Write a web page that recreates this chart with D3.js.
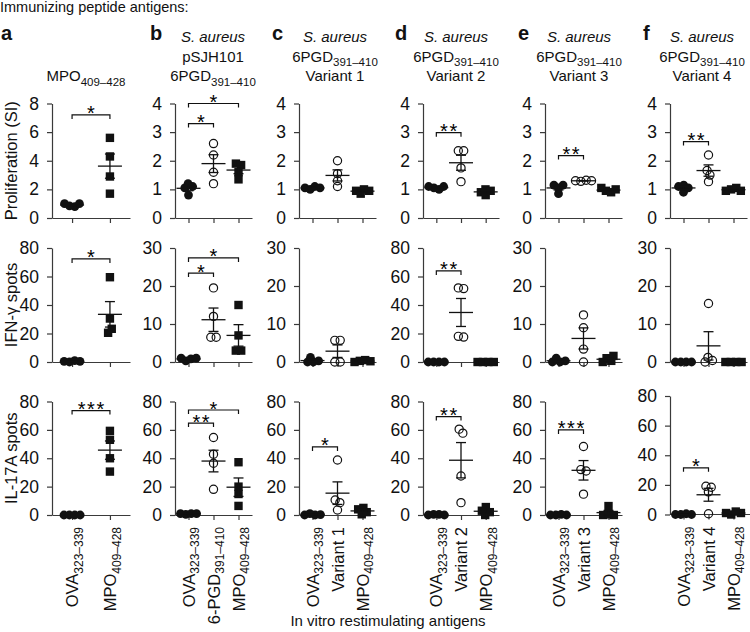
<!DOCTYPE html>
<html><head><meta charset="utf-8">
<script src="https://cdn.jsdelivr.net/npm/d3@7"></script>
<style>
body{margin:0;background:#fff}
svg{display:block}
text{font-family:"Liberation Sans",Arial,Helvetica,sans-serif;fill:#111}
</style>
</head><body>
<svg id="chart" width="750" height="632"></svg>
<script>
// ---------------- DATA ----------------
const panelLetters = ["a","b","c","d","e","f"];
const rowLabels = ["Proliferation (SI)", "IFN-\u03b3 spots", "IL-17A spots"];
const figureTitle = "Immunizing peptide antigens:";
const xAxisTitle = "In vitro restimulating antigens";

// panel titles: lines; "|" separates a subscript; "_i" prefix marks italic
const titleA = ["MPO|409\u2013428"];
const titleB = ["_iS. aureus", "pSJH101", "6PGD|391\u2013410"];
const titleC = ["_iS. aureus", "6PGD|391\u2013410", "Variant 1"];
const titleD = ["_iS. aureus", "6PGD|391\u2013410", "Variant 2"];
const titleE = ["_iS. aureus", "6PGD|391\u2013410", "Variant 3"];
const titleF = ["_iS. aureus", "6PGD|391\u2013410", "Variant 4"];

// categories (x tick labels)
const catsA = ["OVA|323\u2013339", "MPO|409\u2013428"];
const catsB = ["OVA|323\u2013339", "6-PGD|391\u2013410", "MPO|409\u2013428"];
const catsC = ["OVA|323\u2013339", "Variant 1", "MPO|409\u2013428"];
const catsD = ["OVA|323\u2013339", "Variant 2", "MPO|409\u2013428"];
const catsE = ["OVA|323\u2013339", "Variant 3", "MPO|409\u2013428"];
const catsF = ["OVA|323\u2013339", "Variant 4", "MPO|409\u2013428"];

// y-axis maxima and tick steps per row per panel
const yMaxSI   = [8, 4, 4, 4, 4, 4];
const yMaxIFN  = [80, 30, 30, 80, 30, 30];
const yMaxIL17 = [80, 80, 80, 80, 80, 80];
const tickStep = {8:2, 4:1, 30:10, 80:20};

// Proliferation (SI) values, one array per group
const siA = [[1.0, 0.8, 0.85, 1.0], [5.6, 4.3, 2.9, 1.7]];
const siB = [[1.2, 1.1, 1.05, 0.8], [2.6, 2.2, 1.6, 1.2], [1.9, 1.85, 1.6, 1.35]];
const siC = [[1.1, 1.05, 1.05, 1.0], [2.0, 1.55, 1.3, 1.1], [1.0, 0.95, 0.85, 0.95]];
const siD = [[1.1, 1.05, 1.1, 1.0], [2.35, 2.35, 1.75, 1.27], [1.0, 0.9, 0.8, 0.95]];
const siE = [[1.15, 1.15, 0.85, 1.05], [1.32, 1.3, 1.3, 1.28], [0.95, 1.05, 0.9, 1.0]];
const siF = [[1.1, 1.15, 0.9, 1.05], [2.2, 1.66, 1.5, 1.27], [1.0, 0.95, 1.05, 0.95]];

// IFN-gamma spots
const ifnA = [[0.5, 0, 0.5, 1.0], [59.5, 30.5, 20.5, 23.3]];
const ifnB = [[1.0, 0.3, 0.8, 1.0], [19.5, 12, 6.5, 6.5], [15, 7, 3, 3]];
const ifnC = [[0, 0, 0.3, 1.2], [5.7, 5.7, 0, 0], [0.3, 0, 0.5, 0.2]];
const ifnD = [[0, 0, 0, 0], [52, 51.5, 18, 17.5], [0, 0, 0, 0]];
const ifnE = [[0, 0, 0.3, 1.0], [12.4, 9, 3.4, 0], [1.0, 0, 0.3, 1.6]];
const ifnF = [[0, 0, 0, 0], [15.4, 1.2, 0.4, 0], [0, 0, 0, 0]];

// IL-17A spots
const il17A = [[0, 0, 0, 0], [59.3, 53, 40, 30.6]];
const il17B = [[1.0, 0.5, 1.0, 1.0], [54.6, 42.9, 36.5, 18.1], [37.2, 20, 14.8, 6.4]];
const il17C = [[0, 0, 0.3, 1.0], [38.8, 10.6, 8.7, 3.5], [4, 0.5, 2, 5]];
const il17D = [[0, 0, 0.5, 0.5], [60.5, 57.7, 27.5, 8.7], [3, 0, 2, 5.6]];
const il17E = [[0, 0, 0, 0.5], [48.3, 32, 31, 14.7], [0, 0, 0.5, 6.3]];
const il17F = [[0, 0, 0, 0.5], [19.1, 18.4, 15.3, 0.5], [1, 0, 1, 2]];

// significance brackets: [fromGroup, toGroup, yValue, label]
const sigSI   = [[[0,1,7.2,"*"]], [[0,2,4.0,"*"],[0,1,3.3,"*"]], [], [[0,1,2.98,"**"]], [[0,1,2.18,"**"]], [[0,1,2.67,"**"]]];
const sigIFN  = [[[0,1,72.3,"*"]], [[0,2,27.4,"*"],[0,1,23.4,"*"]], [], [[0,1,63.9,"**"]], [], []];
const sigIL17 = [[[0,1,73.6,"***"]], [[0,2,74,"*"],[0,1,64.8,"**"]], [[0,1,48,"*"]], [[0,1,69.4,"**"]], [[0,1,60,"***"]], [[0,1,31.5,"*"]]];

// ---------------- LAYOUT ----------------
const W = 750, H = 632;
const axisX   = [52, 175, 299, 423, 545, 670];
const axisLen = [78, 77, 77, 76, 77, 77];
const titleX  = [86, 213, 335, 456, 579, 702];
const letterX = [1, 150, 272, 395, 518, 643];
const rowBottom = [218, 362, 515];
const rowTop    = [103.5, 248, 401.5];
const fBottomTop = 396, fBottomBase = 514.5;

const FS_TICK = 17.5, FS_LAB = 16.5, FS_XLAB = 16.5, FS_TITLE = 15, FS_SUB = 11.5;
const axisColor = "#3a3a3a";

const svg = d3.select("#chart");

const panels = [
  {cats: catsA, title: titleA, rows: [siA, ifnA, il17A]},
  {cats: catsB, title: titleB, rows: [siB, ifnB, il17B]},
  {cats: catsC, title: titleC, rows: [siC, ifnC, il17C]},
  {cats: catsD, title: titleD, rows: [siD, ifnD, il17D]},
  {cats: catsE, title: titleE, rows: [siE, ifnE, il17E]},
  {cats: catsF, title: titleF, rows: [siF, ifnF, il17F]}
];
const yMaxRows = [yMaxSI, yMaxIFN, yMaxIL17];
const sigRows = [sigSI, sigIFN, sigIL17];

// rich text helper: "main|sub"
function rich(textSel, str, fs, subFs) {
  let italic = false;
  if (str.startsWith("_i")) { italic = true; str = str.slice(2); }
  const parts = str.split("|");
  textSel.append("tspan").text(parts[0]);
  if (italic) textSel.style("font-style", "italic");
  if (parts.length > 1) {
    textSel.append("tspan").attr("dy", fs * 0.3).attr("font-size", subFs).text(parts[1]);
  }
}

// figure title
svg.append("text").attr("x", 0).attr("y", 12).attr("font-size", 14.5).text(figureTitle);

// x axis title
svg.append("text").attr("x", 388).attr("y", 626).attr("text-anchor", "middle")
  .attr("font-size", 15).text(xAxisTitle);

// row labels
rowLabels.forEach((lab, r) => {
  const cy = (rowBottom[r] + rowTop[r]) / 2;
  svg.append("text").attr("transform", `translate(17,${cy}) rotate(-90)`)
    .attr("text-anchor", "middle").attr("font-size", FS_LAB).text(lab);
});

panels.forEach((p, k) => {
  const g = svg.append("g");
  // panel letter
  g.append("text").attr("x", letterX[k]).attr("y", 40).attr("font-size", 20)
    .attr("font-weight", "bold").text(panelLetters[k]);
  // title lines (bottom-aligned at baseline 81)
  const n = p.title.length;
  p.title.forEach((line, i) => {
    const t = g.append("text").attr("x", titleX[k]).attr("y", 81 - (n - 1 - i) * 19.5)
      .attr("text-anchor", "middle").attr("font-size", FS_TITLE);
    rich(t, line, FS_TITLE, FS_SUB);
  });

  const x0 = axisX[k], x1 = axisX[k] + axisLen[k];
  const xS = d3.scalePoint().domain(d3.range(p.cats.length)).range([x0, x1])
    .padding(p.cats.length === 2 ? 0.53 : 0.54);

  p.rows.forEach((groups, r) => {
    let yb = rowBottom[r], yt = rowTop[r];
    if (k === 5 && r === 2) { yb = fBottomBase; yt = fBottomTop; }
    const ymax = yMaxRows[r][k];
    const yS = d3.scaleLinear().domain([0, ymax]).range([yb, yt]);
    const ticks = d3.range(0, ymax + 0.001, tickStep[ymax]);

    // y axis
    const ya = g.append("g").attr("transform", `translate(${x0},0)`)
      .call(d3.axisLeft(yS).tickValues(ticks).tickSize(5).tickSizeOuter(0).tickPadding(8).tickFormat(d3.format("d")));
    ya.selectAll("text").attr("font-size", FS_TICK).attr("font-family", null).style("fill", "#111");
    ya.selectAll("line,path").attr("stroke", axisColor).attr("stroke-width", 1.2);

    // x axis
    const xa = g.append("g").attr("transform", `translate(0,${yb})`)
      .call(d3.axisBottom(xS).tickSize(5).tickSizeOuter(0).tickFormat(""));
    xa.selectAll("line,path").attr("stroke", axisColor).attr("stroke-width", 1.2);
    if (k === 5 && r === 2) xa.select("path").attr("d", `M${x0},0H${W}`);

    // points (beeswarm via d3-force, y fixed)
    groups.forEach((vals, gi) => {
      const cx = xS(gi);
      const nodes = vals.map(v => ({x: cx, y: yS(v), fy: yS(v), v}));
      const sim = d3.forceSimulation(nodes)
        .force("x", d3.forceX(cx).strength(0.08))
        .force("c", d3.forceCollide(2.7))
        .stop();
      for (let i = 0; i < 300; i++) sim.tick();
      const last = gi === groups.length - 1 && groups.length > 1;
      const kind = gi === 0 ? "filled" : (last ? "square" : "open");
      nodes.forEach(nd => {
        if (kind === "filled") {
          g.append("circle").attr("cx", nd.x).attr("cy", nd.fy).attr("r", 4.4).attr("fill", "#111");
        } else if (kind === "open") {
          g.append("circle").attr("cx", nd.x).attr("cy", nd.fy).attr("r", 4.1).attr("fill", "none")
            .attr("stroke", "#111").attr("stroke-width", 1.2);
        } else {
          g.append("rect").attr("x", nd.x - 4.2).attr("y", nd.fy - 4.2).attr("width", 8.4).attr("height", 8.4).attr("fill", "#111");
        }
      });
      // mean +/- SEM
      const m = d3.mean(vals);
      const sem = d3.deviation(vals) / Math.sqrt(vals.length) || 0;
      const ln = (xa1, ya1, xa2, ya2) => g.append("line").attr("x1", xa1).attr("y1", ya1).attr("x2", xa2).attr("y2", ya2)
        .attr("stroke", "#111").attr("stroke-width", 1.3);
      ln(cx - 12, yS(m), cx + 12, yS(m));
      if (sem > 0) {
        ln(cx, yS(m - sem), cx, yS(m + sem));
        ln(cx - 5, yS(m + sem), cx + 5, yS(m + sem));
        ln(cx - 5, yS(m - sem), cx + 5, yS(m - sem));
      }
    });

    // significance brackets
    sigRows[r][k].forEach(([a, b, yv, lab]) => {
      const yy = yS(yv);
      g.append("path").attr("d", `M${xS(a)},${yy + 4}V${yy}H${xS(b)}V${yy + 4}`)
        .attr("fill", "none").attr("stroke", "#111").attr("stroke-width", 1.2);
      g.append("text").attr("x", (xS(a) + xS(b)) / 2).attr("y", yy + 5.5).attr("text-anchor", "middle")
        .attr("font-size", 20).style("fill", "#000").text(lab.split("").join("\u200a"));
    });

    // x tick labels on bottom row
    if (r === 2) {
      p.cats.forEach((c, ci) => {
        const t = g.append("text")
          .attr("transform", `translate(${xS(ci) + 6},${yb + 12}) rotate(-90)`)
          .attr("text-anchor", "end").attr("font-size", FS_XLAB);
        rich(t, c, FS_XLAB, 12);
      });
    }
  });
});
</script>
</body></html>
